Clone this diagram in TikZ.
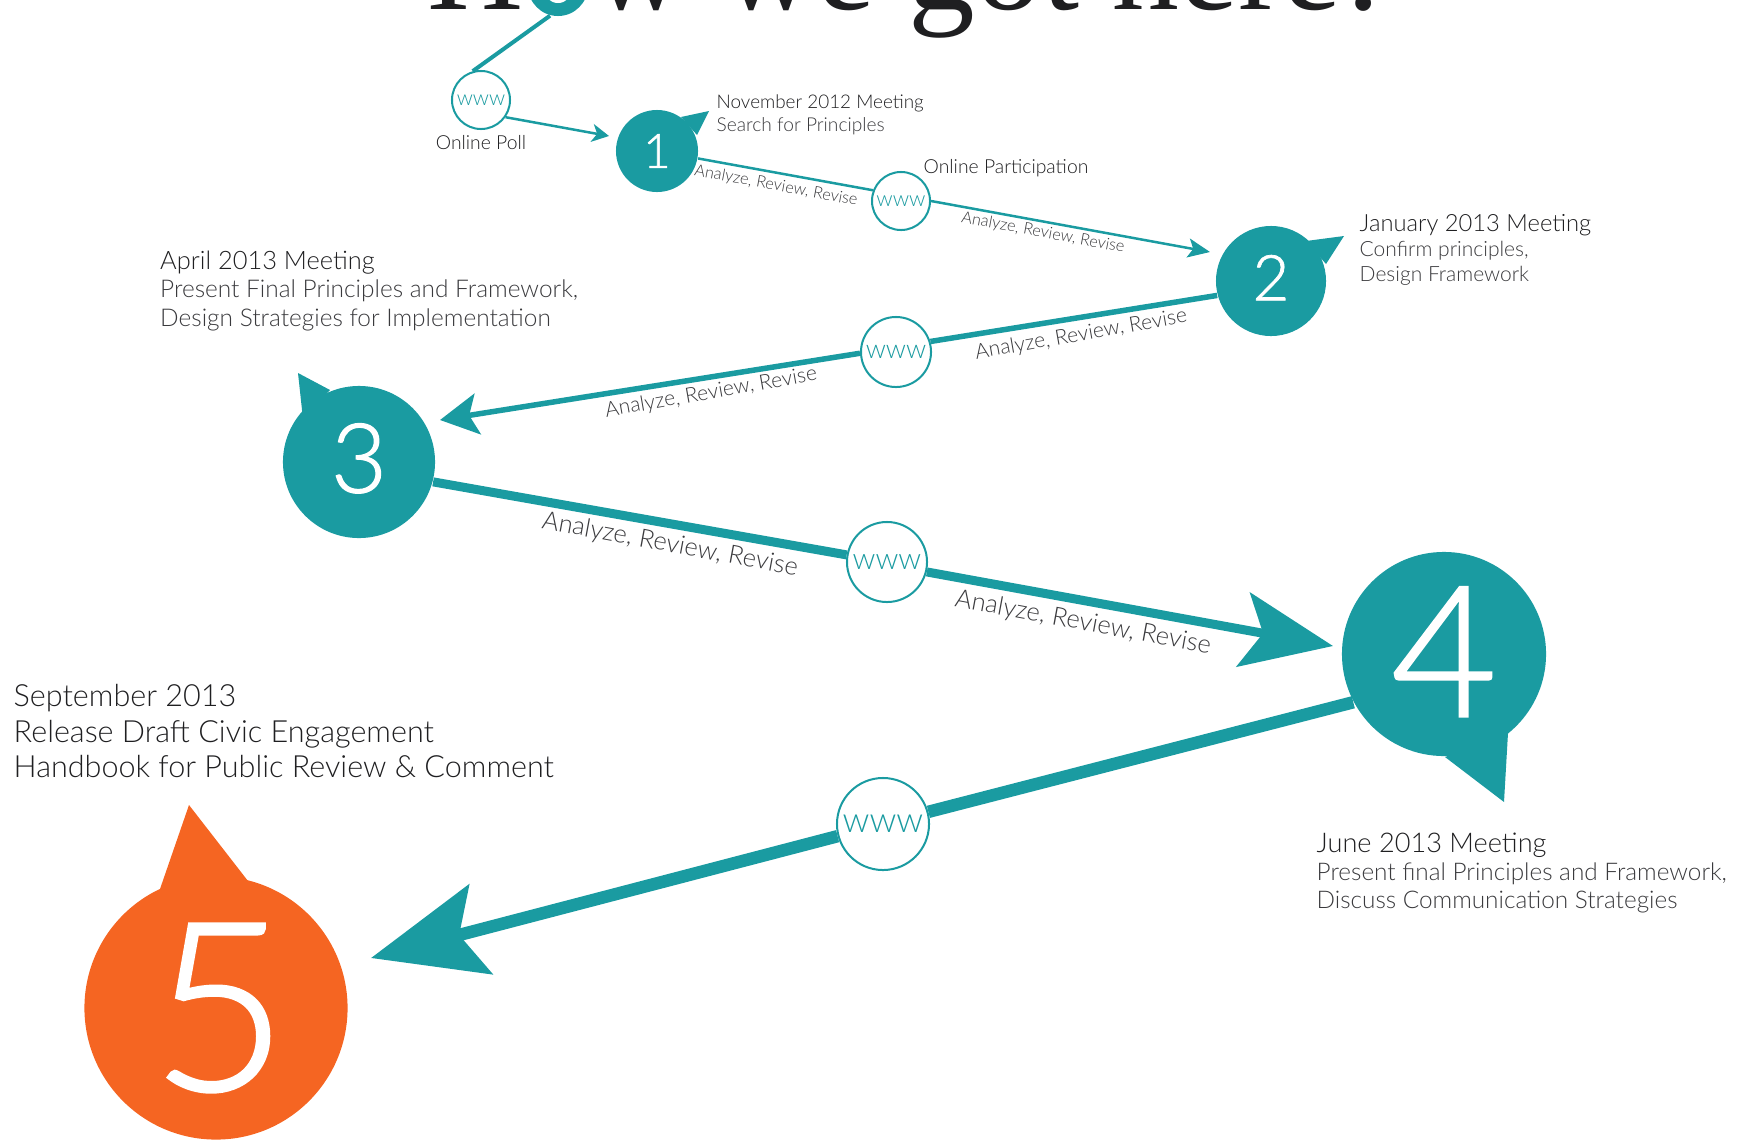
\documentclass[tikz,border=0pt]{standalone}
\usepackage{fontspec}
\setmainfont{Lato}[UprightFont=* Light]
\newfontfamily\titlefont{Liberation Serif}
\newfontfamily\digitfont{Lato}[UprightFont=* Light,RawFeature={embolden=1.2}]
\usetikzlibrary{arrows.meta}
\definecolor{tealc}{HTML}{1A9BA1}
\definecolor{orangec}{HTML}{F56522}
\definecolor{inkc}{HTML}{1F1F21}
\definecolor{grayc}{HTML}{3A3A3D}
\tikzset{
  stopnode/.style={circle,fill=tealc,text=white,inner sep=0pt},
  webnode/.style={circle,draw=tealc,fill=white,text=tealc,line width=0.02cm,inner sep=0pt},
  infotext/.style={anchor=west,align=left,text=grayc,inner sep=0pt},
  reviewtext/.style={text=grayc,inner sep=0pt},
}
\newcommand{\pxfont}[2]{\fontsize{#1}{#2}\selectfont}
\begin{document}
\begin{tikzpicture}[x=0.01cm,y=-0.01cm]
\useasboundingbox (0,0) rectangle (1739,1142);
\node[inner sep=0pt,anchor=base west,text=inkc,font=\titlefont\pxfont{37.9}{42}] (title) at (427,9) {How we got here!};
\node[stopnode,minimum size=0.60cm] (n0) at (558,-14) {};
\fill[white] (n0) ++(0,3) circle (14);
\node[stopnode,minimum size=0.82cm,font=\digitfont\pxfont{13.5}{14}] (n1) at (657,151) {1};
\node[stopnode,minimum size=1.10cm,font=\digitfont\pxfont{18}{19}] (n2) at (1271,281) {\raisebox{0.066cm}{2}};
\node[stopnode,minimum size=1.52cm,font=\digitfont\pxfont{27.5}{28}] (n3) at (359,462) {\raisebox{0.08cm}{3}};
\node[stopnode,minimum size=2.04cm,font=\digitfont\pxfont{52}{53}] (n4) at (1444,654) {\raisebox{0.044cm}{4}};
\node[stopnode,fill=orangec,minimum size=2.63cm,font=\digitfont\pxfont{67}{68}] (n5) at (216,1008) {\hspace{0.07cm}5};
\fill[tealc] (681,117)--(709,111)--(697,135)--cycle;
\fill[tealc] (1306,241)--(1344,236)--(1326,264)--cycle;
\fill[tealc] (330,390)--(298,373)--(303,419)--cycle;
\fill[tealc] (1445,757)--(1504,802)--(1508,733)--cycle;
\fill[orangec] (160,889)--(189,805)--(248,881)--cycle;
\node[webnode,minimum size=0.58cm,font=\pxfont{6}{7}] (w1) at (481,100) {www};
\node[webnode,minimum size=0.58cm,font=\pxfont{6.1}{7}] (w2) at (901,201) {www};
\node[webnode,minimum size=0.70cm,font=\pxfont{7.5}{8}] (w3) at (896,352) {www};
\node[webnode,minimum size=0.80cm,font=\pxfont{8.5}{10}] (w4) at (887,562) {www};
\node[webnode,minimum size=0.92cm,font=\pxfont{10}{11}] (w5) at (883,824) {www};
\coordinate (t1) at (609,136);
\coordinate (t2) at (1210,252);
\coordinate (t3) at (440,420);
\coordinate (t4) at (1333,646);
\coordinate (t5) at (371,958);
\draw[tealc,line width=0.04cm] (n0.-105) -- (w1.106);
\draw[tealc,line width=0.025cm,-{Stealth[length=0.17cm,width=0.18cm,inset=0.05cm]}] (w1.-35) -- (t1);
\draw[tealc,line width=0.025cm] (n1) -- (w2.159);
\draw[tealc,line width=0.025cm,-{Stealth[length=0.22cm,width=0.19cm,inset=0.05cm]}] (w2.0) -- (t2);
\draw[tealc,line width=0.055cm] (n2.195) -- (w3.17);
\draw[tealc,line width=0.055cm,-{Stealth[length=0.38cm,width=0.41cm,inset=0.085cm]}] (w3.182) -- (t3);
\draw[tealc,line width=0.09cm] (n3.-15) -- (w4.170);
\draw[tealc,line width=0.09cm,-{Stealth[length=0.91cm,width=0.75cm,inset=0.2cm]}] (w4.-14) -- (t4);
\draw[tealc,line width=0.125cm] (n4.208) -- (w5.15);
\draw[tealc,line width=0.125cm,-{Stealth[length=1.13cm,width=0.92cm,inset=0.22cm]}] (w5.195) -- (t5);
\node[inner sep=0pt,text=inkc,font=\pxfont{5.5}{6}] (poll) at (481,143) {Online Poll};
\node[inner sep=0pt,anchor=west,text=inkc,font=\pxfont{5.5}{6}] (part) at (923,168) {Online Participation};
\node[infotext,font=\pxfont{5.45}{6.4}] (info1) at (716,115) {\textcolor{inkc}{\pxfont{5.37}{6.4}November 2012 Meeting}\\Search for Principles};
\node[infotext,font=\pxfont{5.97}{7}] (info2) at (1359,250) {\textcolor{inkc}{\pxfont{6.75}{7}January 2013 Meeting}\\Confirm principles,\\Design Framework};
\node[infotext,font=\pxfont{6.95}{8}] (info3) at (159.5,291) {\textcolor{inkc}{\pxfont{7.23}{8}April 2013 Meeting}\\Present Final Principles and Framework,\\Design Strategies for Implementation};
\node[infotext,font=\pxfont{6.92}{8}] (info4) at (1316,873) {\textcolor{inkc}{\pxfont{7.72}{8}June 2013 Meeting}\\Present final Principles and Framework,\\Discuss Communication Strategies};
\node[infotext,text=inkc,font=\pxfont{8.69}{10}] (info5) at (13,731) {September 2013\\Release Draft Civic Engagement\\Handbook for Public Review \& Comment};
\node[reviewtext,rotate=-10.5,font=\pxfont{4.62}{5}] (r1) at (776,186) {Analyze, Review, Revise};
\node[reviewtext,rotate=-10.5,font=\pxfont{4.62}{5}] (r2) at (1043,233) {Analyze, Review, Revise};
\node[reviewtext,rotate=10,font=\pxfont{6}{7}] (r3) at (1081,335) {Analyze, Review, Revise};
\node[reviewtext,rotate=10,font=\pxfont{6}{7}] (r4) at (711,393) {Analyze, Review, Revise};
\node[reviewtext,rotate=-10.5,font=\pxfont{7.25}{8}] (r5) at (670,545) {Analyze, Review, Revise};
\node[reviewtext,rotate=-10.5,font=\pxfont{7.25}{8}] (r6) at (1083,623) {Analyze, Review, Revise};
\end{tikzpicture}
\end{document}
